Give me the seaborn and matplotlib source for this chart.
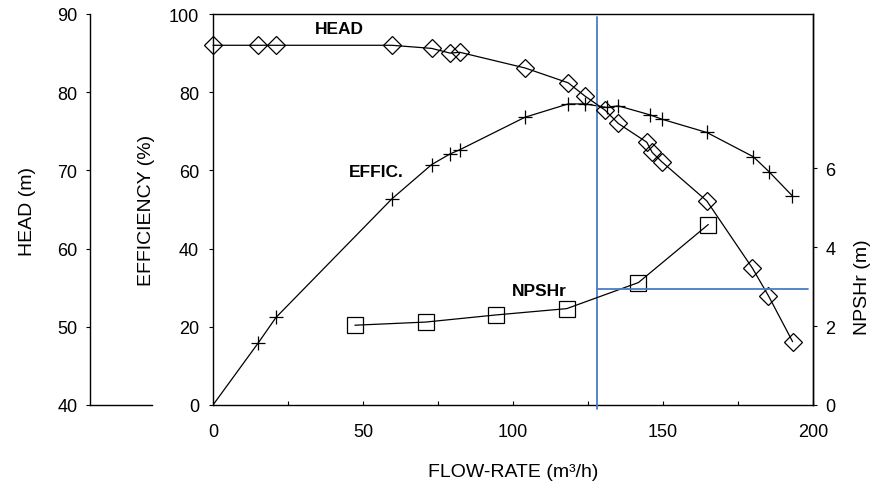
import matplotlib
matplotlib.use('Agg')
import matplotlib.pyplot as plt
import seaborn as sns
from matplotlib.ticker import MultipleLocator

# pump curve readings
flow_head = [0, 15, 21, 59.6, 72.9, 79, 82.3, 104, 118.4, 124, 130.7, 135.1,
             144.6, 146.4, 149.6, 164.6, 179.8, 185.1, 193.2]
head = [86.0, 86.0, 86.0, 86.0, 85.6, 85.0, 85.1, 83.1, 81.2, 79.5, 77.7, 76.0,
        73.6, 72.3, 71.1, 66.1, 57.5, 54.0, 48.1]

flow_eff = [0, 15.1, 21, 59.6, 72.9, 79, 82.3, 104, 118.4, 124, 131.2, 135.1,
            145.7, 149.6, 164.6, 180.1, 185.3, 193.1]
eff = [0, 15.9, 22.4, 52.7, 61.5, 64.2, 65.3, 73.6, 77.0, 77.0, 76.1, 76.5,
       74.2, 73.1, 69.7, 63.5, 59.7, 53.5]

flow_npsh = [47.3, 70.9, 94.3, 117.9, 141.8, 165.1]
npsh = [2.02, 2.10, 2.28, 2.44, 3.10, 4.57]

# duty point marked by the blue guide lines
duty_flow = 128
duty_npsh = 2.93

sns.set_style('ticks')
plt.rcParams['font.family'] = ['Liberation Sans', 'DejaVu Sans']
plt.rcParams['axes.linewidth'] = 1.0
for k in ['text.color', 'axes.labelcolor', 'xtick.color', 'ytick.color', 'axes.edgecolor']:
    plt.rcParams[k] = 'black'

W, H = 887, 485
fig = plt.figure(figsize=(W / 100, H / 100), dpi=100)
ax = fig.add_axes([213 / W, 79 / H, 600 / W, 391 / H])
ax_left = fig.add_axes([90 / W, 79 / H, 62 / W, 391 / H])

tick_fs = 13
lab_fs = 14
blue = '#4a7cc7'

# efficiency on main axes
sns.lineplot(x=flow_eff, y=eff, ax=ax, color='black', lw=0.9, marker='+',
             markersize=9.5, markeredgecolor='black', markeredgewidth=0.9,
             markevery=list(range(1, len(eff))), estimator=None, sort=False)
ax.set_xlim(0, 200)
ax.set_ylim(0, 100)
ax.xaxis.set_major_locator(MultipleLocator(50))
ax.xaxis.set_minor_locator(MultipleLocator(25))
ax.yaxis.set_major_locator(MultipleLocator(20))
ax.tick_params(axis='x', which='both', direction='in', length=3, width=0.8,
               labelsize=tick_fs, pad=13)
ax.tick_params(axis='y', direction='out', length=3, width=0.8,
               labelsize=tick_fs, pad=7)
for s in ax.spines.values():
    s.set_visible(True)
    s.set_color('black')

# head on a hidden twin with its own 40-90 scale
ax_h = ax.twinx()
sns.lineplot(x=flow_head, y=head, ax=ax_h, color='black', lw=0.9, marker='D',
             markersize=9.3, markerfacecolor='none', markeredgecolor='black',
             markeredgewidth=0.9, estimator=None, sort=False, clip_on=False)
ax_h.set_ylim(40, 90)
ax_h.set_yticks([])
for s in ax_h.spines.values():
    s.set_visible(False)

# NPSHr on right axis
ax_n = ax.twinx()
sns.lineplot(x=flow_npsh, y=npsh, ax=ax_n, color='black', lw=0.9, marker='s',
             markersize=12, markerfacecolor='none', markeredgecolor='black',
             markeredgewidth=0.9, estimator=None, sort=False)
ax_n.set_ylim(0, 9.9)
ax_n.set_yticks([0, 2, 4, 6])
ax_n.tick_params(axis='y', direction='out', length=3, width=0.8,
                 labelsize=tick_fs, pad=6)
ax_n.spines['right'].set_visible(True)
ax_n.spines['right'].set_color('black')
for side in ['left', 'top', 'bottom']:
    ax_n.spines[side].set_visible(False)

# blue guide lines
ax.plot([duty_flow, duty_flow], [-1, 99.2], color=blue, lw=1.3, clip_on=False, zorder=5)
ax_n.plot([duty_flow, 198.4], [duty_npsh, duty_npsh], color=blue, lw=1.3, zorder=5)

# separate head scale on the far left
ax_left.set_ylim(40, 90)
ax_left.set_xlim(0, 1)
ax_left.set_xticks([])
ax_left.yaxis.set_major_locator(MultipleLocator(10))
ax_left.tick_params(axis='y', direction='out', length=3, width=0.8,
                    labelsize=tick_fs, pad=6)
ax_left.spines['top'].set_visible(False)
ax_left.spines['right'].set_visible(False)
ax_left.spines['left'].set_color('black')
ax_left.spines['bottom'].set_color('black')
ax_left.patch.set_alpha(0)

for a in [ax, ax_h, ax_n]:
    a.set_xlabel('')
    a.set_ylabel('')

# curve labels
ax_h.text(42, 88.1, 'HEAD', fontsize=12.5, fontweight='bold', ha='center', va='center')
ax.text(54.4, 59.6, 'EFFIC.', fontsize=12.5, fontweight='bold', ha='center', va='center')
ax_n.text(108.7, 2.91, 'NPSHr', fontsize=12.5, fontweight='bold', ha='center', va='center')

# axis titles
fig.text(28 / W, 1 - 212 / H, 'HEAD (m)', rotation=90, fontsize=lab_fs, ha='center', va='center')
fig.text(147 / W, 1 - 210 / H, 'EFFICIENCY (%)', rotation=90, fontsize=lab_fs, ha='center', va='center')
fig.text(863 / W, 1 - 287 / H, 'NPSHr (m)', rotation=90, fontsize=lab_fs, ha='center', va='center')
fig.text(513 / W, 1 - 473 / H, 'FLOW-RATE (m³/h)', fontsize=lab_fs, ha='center', va='center')

fig.savefig('out.png', dpi=100)
